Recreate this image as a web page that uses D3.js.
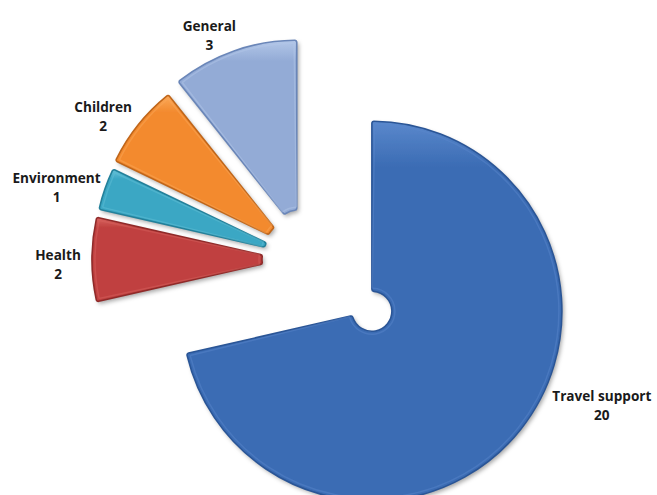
<!DOCTYPE html>
<html>
<head>
<meta charset="utf-8">
<script src="https://cdn.jsdelivr.net/npm/d3@7/dist/d3.min.js"></script>
<style>
  html, body { margin: 0; padding: 0; background: #ffffff; }
  svg { display: block; }
  text { font-family: "Open Sans", "Liberation Sans", sans-serif; font-weight: bold; fill: #1a1a1a; }
</style>
</head>
<body>
<svg id="chart" width="657" height="495"></svg>
<script>
// ---- data ----
const categories = ["Travel support", "Health", "Environment", "Children", "General"];
const values = [20, 2, 1, 2, 3];

// ---- style / layout ----
const colors = ["#3b6cb4", "#c0413f", "#3ba7c4", "#f38a2e", "#93abd6"];
const darkColors = ["#2a5596", "#8f2a29", "#23809a", "#c0661a", "#6a86b8"];
const lightColors = ["#5a88cc", "#d86360", "#64c0d8", "#fba95a", "#b3c7e8"];
const explode = [83, 25, 24, 26, 31];
// label placement: [angle (deg, clockwise from top), distance] from each slice's apex
const labelPlace = [[112, 248], [269, 224], [286, 237], [305, 224], [336, 215]];

const W = 657, H = 495;
const cx = 307, cy = 259.5;
const outerR = 190, innerR = 20;

const svg = d3.select("#chart");
const defs = svg.append("defs");

const shadow = defs.append("filter").attr("id", "shadow")
  .attr("x", "-20%").attr("y", "-20%").attr("width", "140%").attr("height", "140%");
shadow.append("feDropShadow").attr("dx", 2).attr("dy", 2.5)
  .attr("stdDeviation", 2).attr("flood-color", "#000").attr("flood-opacity", 0.35);

colors.forEach((c, i) => {
  const g = defs.append("linearGradient").attr("id", "grad" + i)
    .attr("x1", "0").attr("y1", "0").attr("x2", "0").attr("y2", "1");
  g.append("stop").attr("offset", "0%").attr("stop-color", lightColors[i]);
  g.append("stop").attr("offset", "12%").attr("stop-color", c);
  g.append("stop").attr("offset", "100%").attr("stop-color", c);
});

const pie = d3.pie().sort(null).value(d => d.value).startAngle(0).endAngle(2 * Math.PI);
const arcs = pie(categories.map((c, i) => ({ name: c, value: values[i], i })));

const arc = d3.arc().innerRadius(innerR).outerRadius(outerR).cornerRadius(2);

const root = svg.append("g").attr("transform", `translate(${cx},${cy})`);

arcs.forEach((a, i) => {
  const mid = (a.startAngle + a.endAngle) / 2;
  const dx = Math.sin(mid) * explode[i];
  const dy = -Math.cos(mid) * explode[i];
  const g = root.append("g").attr("transform", `translate(${dx},${dy})`);
  g.append("path")
    .attr("d", arc(a))
    .attr("fill", `url(#grad${i})`)
    .attr("filter", "url(#shadow)");
  g.append("path")
    .attr("d", arc(a))
    .attr("fill", "none")
    .attr("stroke", darkColors[i])
    .attr("stroke-width", 1.6)
    .attr("stroke-linejoin", "round");
  // inner highlight (bevel)
  const inner = d3.arc().innerRadius(innerR + 3).outerRadius(outerR - 3).cornerRadius(1);
  g.append("path")
    .attr("d", inner({ startAngle: a.startAngle + 3 / outerR * 0.9, endAngle: a.endAngle - 3 / outerR * 0.9 }))
    .attr("fill", "none")
    .attr("stroke", lightColors[i])
    .attr("stroke-opacity", 0.45)
    .attr("stroke-width", 1.5);

  // label
  const [ang, dist] = labelPlace[i];
  const r = ang * Math.PI / 180;
  const lx = Math.sin(r) * dist;
  const ly = -Math.cos(r) * dist;
  const t = g.append("text")
    .attr("transform", `translate(${lx},${ly})`)
    .attr("text-anchor", "middle")
    .attr("font-size", 13.6);
  t.append("tspan").attr("x", 0).attr("y", -3).text(a.data.name);
  t.append("tspan").attr("x", 0).attr("y", 16).text(a.data.value);
});
</script>
</body>
</html>
